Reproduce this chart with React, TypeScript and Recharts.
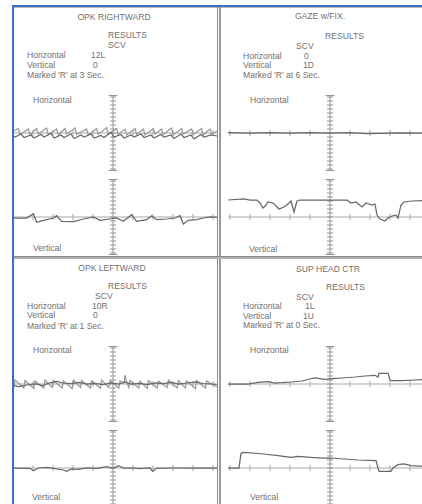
import { LineChart, Line, XAxis, YAxis, ReferenceLine } from 'recharts';

type Pt = [number, number];

const FONT = '"Liberation Sans", Arial, sans-serif';
const TEXT = '#717171';
const TRACE = '#676767';
const GRID = '#a9a9a9';
const SCALE = '#959595';

// headings / results of the four tests
const titles = ['OPK RIGHTWARD', 'GAZE w/FIX.', 'OPK LEFTWARD', 'SUP HEAD CTR'];
const scvHorizontal = ['12L', '0', '10R', '1L'];
const scvVertical = ['0', '1D', '0', '1U'];
const markedSec = [3, 6, 1, 0];

// second marks on the baselines and minor ticks on the centre scale
const secTicks = [-5, -4, -3, -2, -1, 1, 2, 3, 4, 5];
const scaleTicks = [-36, -32, -28, -24, -20, -16, -12, -8, -4, 0, 4, 8, 12, 16, 20, 24, 28, 32, 36];

// traces: [seconds, position]
const opkRightH1: Pt[] = [
  [-5.1, 0.5], [-4.73, 4.5], [-4.65, -1.5], [-4.23, 4], [-4.15, -2], [-3.82, 4.5], [-3.74, -1], [-3.32, 5],
  [-3.24, -1.5], [-2.82, 4], [-2.74, -2], [-2.4, 4.5], [-2.32, -1], [-1.9, 5], [-1.82, -1.5], [-1.32, 4],
  [-1.24, -2], [-0.82, 4.5], [-0.74, -1.5], [-0.32, 5.5], [-0.24, -1], [0.18, 4.5], [0.26, -1.5], [0.6, 4],
  [0.68, -2], [1.1, 4.5], [1.18, -1.5], [1.52, 4], [1.6, -2], [2.02, 4.5], [2.1, -1], [2.43, 4],
  [2.51, -1.5], [2.93, 5], [3.01, -2], [3.43, 4.5], [3.51, -1], [3.93, 4], [4.01, -1.5], [4.43, 4.5],
  [4.51, -2], [4.85, 4], [4.93, -1], [5.2, 2],
];
const opkRightH2: Pt[] = [
  [-5.1, -2], [-4.9, -4], [-4.6, -1], [-4.45, -4.5], [-4.1, -2], [-3.95, -5], [-3.6, -1.5], [-3.45, -4],
  [-3.1, -0.5], [-2.95, -5], [-2.6, -2], [-2.45, -4.5], [-2.1, -1], [-1.95, -5.5], [-1.6, -2], [-1.45, -4],
  [-1.1, -1], [-0.95, -5], [-0.6, -2.5], [-0.45, -4.5], [-0.1, 0.5], [0.05, -4], [0.4, -1.5], [0.55, -5],
  [0.9, -2], [1.05, -4], [1.4, -1], [1.55, -4.5], [1.9, -2], [2.05, -5], [2.4, -1.5], [2.55, -4],
  [2.9, -2], [3.05, -5.5], [3.4, -1], [3.55, -4.5], [3.9, -2], [4.05, -6], [4.4, -1.5], [4.55, -4],
  [4.9, -2], [5.2, -3],
];
const opkRightV: Pt[] = [
  [-5.1, -0.5], [-4.98, -1], [-4.32, -1], [-3.98, 3.3], [-3.82, -5.3], [-3.48, -3.3], [-2.98, -1], [-2.82, 1.3],
  [-2.57, -4.3], [-1.98, -4.7], [-1.48, -2], [-0.98, 0], [-0.65, -3.3], [-0.15, -2], [0.18, -1], [0.52, -4.3],
  [0.93, 2.3], [1.18, -4.3], [1.68, -2.7], [1.93, 1.3], [2.18, -2.7], [2.68, -2], [3.1, -1], [3.35, 1.3],
  [3.52, -7], [3.77, -3.3], [4.18, -2.7], [4.52, -1], [4.85, 0], [5.2, -0.3],
];

const gazeH: Pt[] = [
  [-5.1, 0.3], [-4, 0], [-3, 0.4], [-2, 0], [-1, 0.3], [0, 0], [1, 0.4], [1.8, -0.5], [2.5, -0.3],
  [3.5, 0.2], [4.5, 0], [5.2, 0.3],
];
const gazeV: Pt[] = [
  [-5.1, 17], [-4.3, 18], [-4.0, 17], [-3.65, 17], [-3.5, 14], [-3.35, 9], [-3.2, 12], [-3.1, 15],
  [-2.85, 14], [-2.7, 11], [-2.55, 8], [-2.3, 10], [-2.1, 13], [-1.95, 16], [-1.8, 5], [-1.65, 16],
  [-1.5, 17], [0.85, 17], [1.05, 14], [1.3, 15], [1.6, 10], [1.8, 14], [2.1, 12], [2.25, 13],
  [2.35, 2], [2.5, -2], [2.75, -4], [2.9, -1], [3.1, 1], [3.3, 2], [3.4, -1], [3.55, 12],
  [3.7, 15], [4.1, 16], [4.6, 16.5], [5.2, 16.5],
];

const opkLeftH1: Pt[] = [
  [-5.1, 1], [-4.96, -3.5], [-4.9, 4], [-4.46, -4], [-4.4, 3.5], [-3.96, -4.5], [-3.9, 3], [-3.46, -4],
  [-3.4, 4], [-3.04, -3.5], [-2.98, 3.5], [-2.54, -4], [-2.48, 3], [-2.04, -4.5], [-1.98, 4], [-1.63, -3.5],
  [-1.57, 3.5], [-1.13, -4], [-1.07, 3], [-0.63, -4], [-0.57, 4], [-0.21, -3.5], [-0.15, 3.5], [0.29, -4],
  [0.35, 3], [0.55, 1], [0.6, 9], [0.68, 2], [0.79, -3.5], [0.85, 3.5], [1.29, -4], [1.35, 3],
  [1.71, -4.5], [1.77, 3.5], [2.21, -4], [2.27, 3], [2.71, -3.5], [2.77, 4], [3.21, -4], [3.27, 3.5],
  [3.62, -4], [3.68, 3], [4.12, -4.5], [4.18, 3.5], [4.62, -4], [4.68, 3], [5.2, -3],
];
const opkLeftH2: Pt[] = [
  [-5.1, -1], [-4.7, -2.5], [-4.3, -1], [-3.9, 0], [-3.5, -1.5], [-3.2, 1], [-2.8, 2.5], [-2.5, 1],
  [-2.1, 0.5], [-1.7, 1.5], [-1.3, 0], [-0.9, 0.5], [-0.5, -0.5], [-0.1, 1], [0.3, 0], [0.6, 2],
  [0.9, 0], [1.3, 0.5], [1.7, -0.5], [2.1, 1], [2.5, 0.5], [2.9, 1.5], [3.3, 0], [3.7, 1],
  [4.1, 2], [4.5, 0.5], [4.9, 0], [5.2, -0.5],
];
const opkLeftV: Pt[] = [
  [-5.1, 0], [-4.98, 0], [-4.15, -0.3], [-3.98, -2.7], [-3.73, 0], [-3.32, 0.7], [-2.98, -0.3], [-2.48, -2],
  [-2.32, -3.3], [-2.07, -1], [-1.73, -1.3], [-1.32, 0], [-0.82, -0.3], [-0.32, 1.3], [0.02, 0], [0.27, 2.3],
  [0.52, 0], [1.02, 0], [1.35, -0.7], [1.85, 0], [1.98, -3.3], [2.18, -0.3], [3.02, 0], [4.02, 0], [5.2, 0],
];

const supHeadH: Pt[] = [
  [-5.1, 0], [-4.1, 0], [-3.9, 0.7], [-3.6, 1.7], [-3.1, 2.3], [-2.75, 1], [-2.4, 1.3], [-1.9, 2],
  [-1.4, 3], [-1.0, 5], [-0.75, 6], [-0.25, 4.7], [0.1, 5.3], [0.6, 6], [1.25, 7], [1.75, 8],
  [2.25, 8.7], [2.4, 7], [2.45, 10.7], [2.9, 10.7], [3.0, 4], [3.1, 3.3], [3.6, 3.3], [4.25, 4], [4.6, 4.3], [5.2, 4.3],
];
const supHeadV: Pt[] = [
  [-5.1, 0], [-4.55, 0], [-4.45, 14.7], [-4.3, 15.7], [-3.3, 14], [-2.6, 12.3], [-1.95, 10.7], [-1.6, 11.7],
  [-0.95, 10.7], [-0.3, 10], [0.05, 10], [0.7, 9], [1.4, 8], [2.3, 7.3], [2.4, 0], [2.45, -3.3],
  [3.05, -3.3], [3.15, 0], [3.4, 3.3], [3.7, 4], [4.05, 2.3], [4.55, 2], [5.2, 2],
];

const pts = (a: Pt[]) => a.map(([x, y]) => ({ x, y }));

function Txt({ x, y, children, center }: { x: number; y: number; children: any; center?: boolean }) {
  return (
    <div
      style={{
        position: 'absolute', left: x, top: y - 3.5, lineHeight: '7px', fontSize: 8.6, color: TEXT,
        whiteSpace: 'nowrap', transform: center ? 'translateX(-50%)' : undefined,
      }}
    >
      {children}
    </div>
  );
}

interface Layout {
  left: number; top: number; width: number; height: number; chartLeft: number;
  titleX: number; titleY: number; resX: number; resY: number; scvX: number; scvY: number;
  labX: number; valX: number; val2X: number; hY: number; vY: number; markY: number;
  hLabX: number; hLabY: number; vLabX: number; vLabY: number;
}

const layouts: Layout[] = [
  { left: 14, top: 8, width: 204, height: 248, chartLeft: -11, titleX: 100, titleY: 9, resX: 94, resY: 27, scvX: 94, scvY: 37,
    labX: 13, valX: 77, val2X: 79, hY: 47, vY: 57, markY: 67.5, hLabX: 19, hLabY: 92, vLabX: 19, vLabY: 240 },
  { left: 221, top: 8, width: 201, height: 248, chartLeft: -1, titleX: 99, titleY: 8, resX: 104, resY: 28.5, scvX: 75, scvY: 38.5,
    labX: 22, valX: 83, val2X: 82, hY: 48, vY: 57.5, markY: 67, hLabX: 29, hLabY: 92, vLabX: 28, vLabY: 241 },
  { left: 14, top: 259, width: 204, height: 245, chartLeft: -11, titleX: 98, titleY: 9, resX: 94, resY: 27, scvX: 81, scvY: 37,
    labX: 13, valX: 78, val2X: 79, hY: 47, vY: 56.5, markY: 67, hLabX: 19, hLabY: 91, vLabX: 18, vLabY: 238 },
  { left: 221, top: 259, width: 201, height: 245, chartLeft: -1, titleX: 107, titleY: 10, resX: 105, resY: 28, scvX: 75, scvY: 38,
    labX: 22, valX: 84, val2X: 82, hY: 47.5, vY: 57, markY: 66.5, hLabX: 29, hLabY: 91, vLabX: 29, vLabY: 238 },
];

const traces: { h: Pt[][]; hColors: string[]; v: Pt[] }[] = [
  { h: [opkRightH1, opkRightH2], hColors: ['#9a9a9a', TRACE], v: opkRightV },
  { h: [gazeH], hColors: [TRACE], v: gazeV },
  { h: [opkLeftH1, opkLeftH2], hColors: ['#9a9a9a', TRACE], v: opkLeftV },
  { h: [supHeadH], hColors: [TRACE], v: supHeadV },
];

function Scale({ axis, start }: { axis: string; start: number }) {
  return (
    <>
      <ReferenceLine yAxisId={axis} segment={[{ x: start, y: 0 }, { x: 5.5, y: 0 }]} stroke={GRID} strokeWidth={1} />
      {secTicks.filter((t) => t > start).map((t) => (
        <ReferenceLine key={`s${t}`} yAxisId={axis} segment={[{ x: t, y: -3 }, { x: t, y: 3 }]} stroke={GRID} />
      ))}
      <ReferenceLine yAxisId={axis} segment={[{ x: 0, y: -37.5 }, { x: 0, y: 37.5 }]} stroke={SCALE} />
      {scaleTicks.map((t) => (
        <ReferenceLine key={`t${t}`} yAxisId={axis} segment={[{ x: -0.15, y: t }, { x: 0.15, y: t }]} stroke={SCALE} />
      ))}
      <ReferenceLine yAxisId={axis} segment={[{ x: -0.22, y: 37.5 }, { x: 0.22, y: 37.5 }]} stroke={SCALE} />
      <ReferenceLine yAxisId={axis} segment={[{ x: -0.22, y: -37.5 }, { x: 0.22, y: -37.5 }]} stroke={SCALE} />
    </>
  );
}

function Panel({ i }: { i: number }) {
  const l = layouts[i];
  const tr = traces[i];
  const start = i % 2 === 0 ? -5.5 : -5.1;
  return (
    <div style={{ position: 'absolute', left: l.left, top: l.top, width: l.width, height: l.height, overflow: 'hidden' }}>
      <Txt x={l.titleX} y={l.titleY} center>{titles[i]}</Txt>
      <Txt x={l.resX} y={l.resY}>RESULTS</Txt>
      <Txt x={l.scvX} y={l.scvY}>SCV</Txt>
      <Txt x={l.labX} y={l.hY}>Horizontal</Txt>
      <Txt x={l.valX} y={l.hY}>{scvHorizontal[i]}</Txt>
      <Txt x={l.labX} y={l.vY}>Vertical</Txt>
      <Txt x={l.val2X} y={l.vY}>{scvVertical[i]}</Txt>
      <Txt x={l.labX} y={l.markY}>{`Marked 'R' at ${markedSec[i]} Sec.`}</Txt>
      <Txt x={l.hLabX} y={l.hLabY}>Horizontal</Txt>
      <Txt x={l.vLabX} y={l.vLabY}>Vertical</Txt>
      <div style={{ position: 'absolute', left: l.chartLeft, top: 80 }}>
        <LineChart width={220} height={170} margin={{ top: 0, right: 0, bottom: 0, left: 0 }}>
          <XAxis type="number" dataKey="x" domain={[-5.5, 5.5]} allowDataOverflow hide />
          <YAxis yAxisId="h" type="number" domain={[-125, 45]} allowDataOverflow hide />
          <YAxis yAxisId="v" type="number" domain={[-41, 129]} allowDataOverflow hide />
          {Scale({ axis: 'h', start })}
          {Scale({ axis: 'v', start })}
          {tr.h.map((d, k) => (
            <Line key={k} yAxisId="h" data={pts(d)} dataKey="y" type="linear" stroke={tr.hColors[k]}
              strokeWidth={1.25} dot={false} isAnimationActive={false} />
          ))}
          <Line yAxisId="v" data={pts(tr.v)} dataKey="y" type="linear" stroke={TRACE}
            strokeWidth={1.25} dot={false} isAnimationActive={false} />
        </LineChart>
      </div>
    </div>
  );
}

export default function App() {
  return (
    <div style={{ position: 'absolute', left: 0, top: 0, width: 422, height: 504, overflow: 'hidden', background: '#fff', fontFamily: FONT }}>
      <div style={{ position: 'absolute', left: 12, top: 5, width: 410, height: 2, background: '#3f6fc4' }} />
      <div style={{ position: 'absolute', left: 12, top: 7, width: 410, height: 1, background: '#b9b9b9' }} />
      <div style={{ position: 'absolute', left: 12, top: 5, width: 2, height: 499, background: '#3f6fc4' }} />
      <div style={{ position: 'absolute', left: 217, top: 7, width: 1, height: 497, background: '#8a8a8a' }} />
      <div style={{ position: 'absolute', left: 219, top: 7, width: 2, height: 497, background: '#9a9a9a' }} />
      <div style={{ position: 'absolute', left: 14, top: 256, width: 408, height: 1, background: '#8a8a8a' }} />
      <div style={{ position: 'absolute', left: 14, top: 257, width: 408, height: 2, background: '#b0b0b0' }} />
      {[0, 1, 2, 3].map((i) => <Panel key={i} i={i} />)}
    </div>
  );
}
